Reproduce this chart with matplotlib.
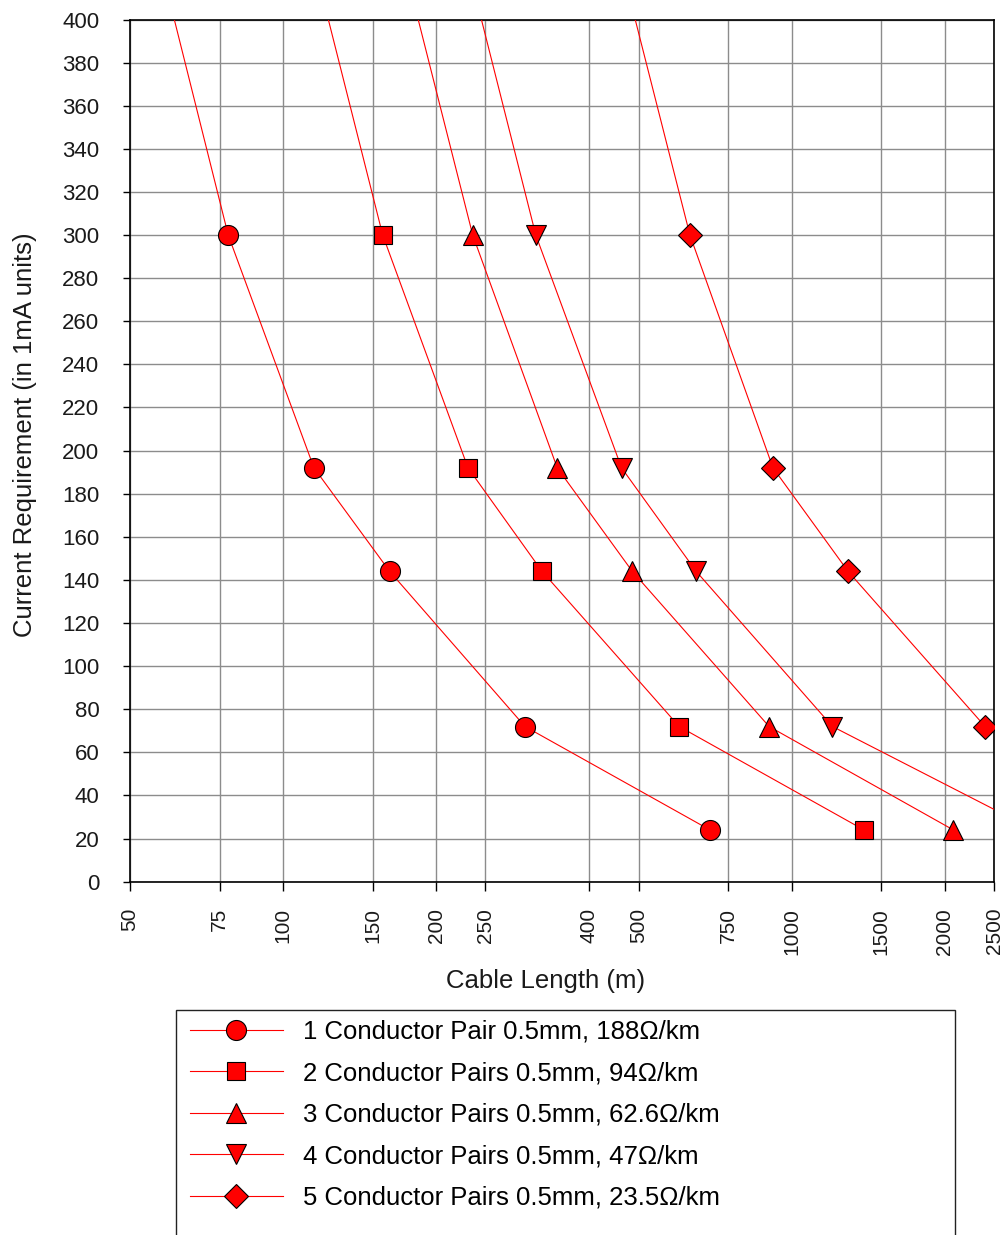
import numpy as np
import matplotlib.pyplot as plt
from matplotlib.patches import Rectangle
from matplotlib.ticker import FixedLocator, FixedFormatter, NullFormatter

## DATA
current_ma = [600, 300, 192, 144, 72, 24]   # first point sits above the plot, only steers the line

length_1pair = [37.5, 78, 115, 162, 299, 691]
length_2pair = [75, 157, 231, 323, 601, 1388]
length_3pair = [112.5, 236, 346, 486, 903, 2080]
length_4pair = [150, 314, 463, 649, 1203, 3000]
length_5pair = [300, 631, 919, 1291, 2401, 5530]

series_labels = ["1 Conductor Pair 0.5mm, 188\u03a9/km",
                 "2 Conductor Pairs 0.5mm, 94\u03a9/km",
                 "3 Conductor Pairs 0.5mm, 62.6\u03a9/km",
                 "4 Conductor Pairs 0.5mm, 47\u03a9/km",
                 "5 Conductor Pairs 0.5mm, 23.5\u03a9/km"]

x_ticks = [50, 75, 100, 150, 200, 250, 400, 500, 750, 1000, 1500, 2000, 2500]
y_ticks = list(range(0, 401, 20))

## FIGURE
W, H = 1005, 1235
fig = plt.figure(figsize=(W / 100, H / 100), dpi=100)
ax_l, ax_r, ax_t, ax_b = 130, 994, 19.5, 881.7
ax = fig.add_axes([ax_l / W, 1 - ax_b / H, (ax_r - ax_l) / W, (ax_b - ax_t) / H])

series = [(length_1pair, 'o', 14.4), (length_2pair, 's', 12.7), (length_3pair, '^', 14.4),
          (length_4pair, 'v', 14.4), (length_5pair, 'D', 12.7)]
handles = []
for (lengths, marker, ms), label in zip(series, series_labels):
    h, = ax.plot(lengths, current_ma, color='#ff0000', lw=0.8, marker=marker, ms=ms,
                 mfc='#ff0000', mec='black', mew=0.8, label=label, zorder=3)
    handles.append(h)

## AXES
ax.set_xscale('log')
ax.set_xlim(50, 2500)
ax.set_ylim(0, 400)

ax.xaxis.set_major_locator(FixedLocator(x_ticks))
ax.xaxis.set_major_formatter(FixedFormatter([str(v) for v in x_ticks]))
ax.xaxis.set_minor_locator(FixedLocator([100, 1000]))
ax.xaxis.set_minor_formatter(NullFormatter())
ax.yaxis.set_major_locator(FixedLocator(y_ticks))
ax.yaxis.set_minor_locator(FixedLocator([0, 100, 200, 300, 400]))

ax.tick_params(axis='x', which='major', direction='out', length=6.5, width=1, pad=12.3,
               labelrotation=90, labelsize=15, colors='black')
ax.tick_params(axis='x', which='minor', direction='out', length=12.2, width=1)
ax.tick_params(axis='y', which='major', direction='out', length=5, width=1, pad=17,
               labelsize=16, colors='black')
ax.tick_params(axis='y', which='minor', direction='out', length=12.2, width=1)
for t in ax.get_xticklabels():
    t.set_family(['Liberation Sans Narrow', 'Liberation Sans'])
    t.set_color('#1a1a1a')
for t in ax.get_yticklabels():
    t.set_family('Liberation Sans')
    t.set_color('#1a1a1a')

ax.grid(True, which='major', color='#8c8c8c', lw=1.0)
ax.set_axisbelow(True)
for sp in ax.spines.values():
    sp.set_color('black')
    sp.set_linewidth(1.2)

## LABELS
fig.text(25 / W, 1 - 434.5 / H, "Current Requirement (in 1mA units)", rotation=90,
         ha='center', va='center', fontsize=18.5, family='Liberation Sans', color='#1a1a1a')
fig.text(546 / W, 1 - 981 / H, "Cable Length (m)", ha='center', va='center',
         fontsize=18.5, family='Liberation Sans', color='#1a1a1a')

## LEGEND
fig.patches.append(Rectangle((176 / W, -0.05), (955 - 176) / W, 1 - 1010 / H + 0.05,
                             transform=fig.transFigure, fill=False, ec='#222222', lw=1.0))
fig.legend(handles, series_labels, loc='upper left', bbox_to_anchor=(190 / W, 1 - 1020 / H),
           bbox_transform=fig.transFigure, frameon=False, borderpad=0, borderaxespad=0,
           handlelength=3.6, handletextpad=0.8, labelspacing=0.68,
           prop={'family': 'Liberation Sans', 'size': 18.5})

fig.savefig('out.png', dpi=100)
